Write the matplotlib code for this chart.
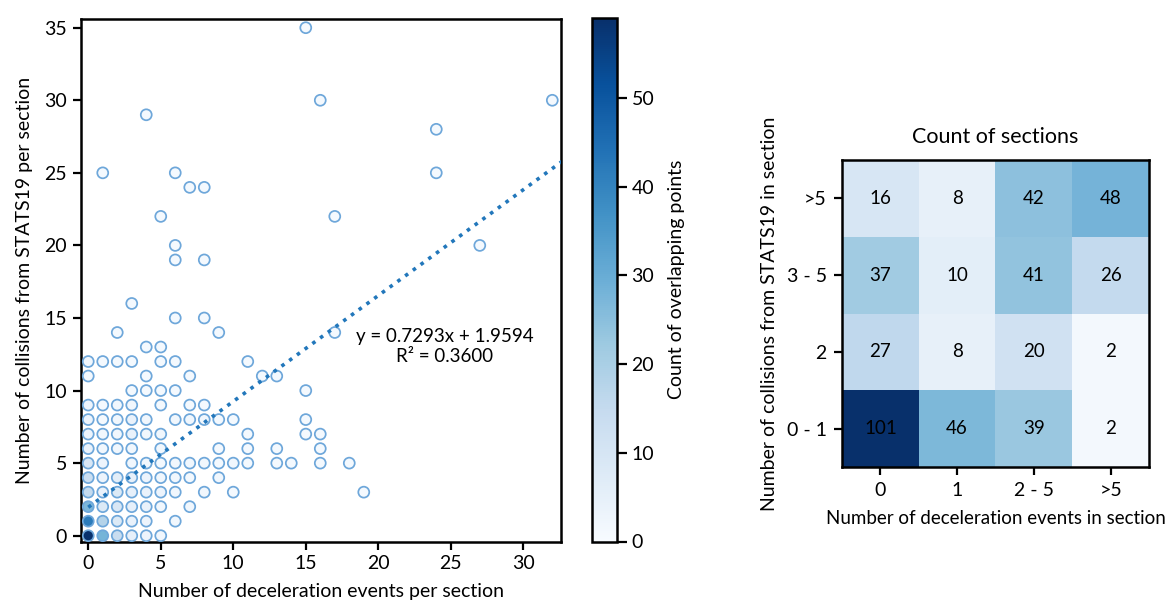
import matplotlib
matplotlib.use("Agg")
import matplotlib.pyplot as plt
import numpy as np

plt.rcParams['font.family'] = ['Lato', 'DejaVu Sans']

# ---- scatter data: unique (decel events, collisions) points and their multiplicity
decel_x = [0, 1, 2, 3, 4, 5,
           0, 1, 2, 3, 4, 6,
           0, 1, 2, 3, 4, 5, 7,
           0, 1, 2, 3, 4, 5, 6, 8, 10, 19,
           0, 1, 2, 3, 4, 5, 6, 7, 9,
           0, 1, 3, 4, 5, 6, 7, 8, 9, 10, 11, 13, 14, 16, 18,
           0, 1, 2, 3, 5, 9, 11, 13, 16,
           0, 1, 2, 3, 4, 5, 11, 15, 16,
           0, 1, 2, 3, 4, 6, 7, 8, 9, 10, 15,
           0, 1, 2, 3, 5, 7, 8,
           3, 4, 5, 6, 15,
           0, 4, 7, 12, 13,
           0, 1, 2, 3, 5, 6, 11,
           4, 5,
           2, 9, 17,
           6, 8,
           3,
           6, 8,
           6, 27,
           5, 17,
           7, 8,
           1, 6, 24,
           24,
           4,
           16, 32,
           15]
collisions_y = [0, 0, 0, 0, 0, 0,
                1, 1, 1, 1, 1, 1,
                2, 2, 2, 2, 2, 2, 2,
                3, 3, 3, 3, 3, 3, 3, 3, 3, 3,
                4, 4, 4, 4, 4, 4, 4, 4, 4,
                5, 5, 5, 5, 5, 5, 5, 5, 5, 5, 5, 5, 5, 5, 5,
                6, 6, 6, 6, 6, 6, 6, 6, 6,
                7, 7, 7, 7, 7, 7, 7, 7, 7,
                8, 8, 8, 8, 8, 8, 8, 8, 8, 8, 8,
                9, 9, 9, 9, 9, 9, 9,
                10, 10, 10, 10, 10,
                11, 11, 11, 11, 11,
                12, 12, 12, 12, 12, 12, 12,
                13, 13,
                14, 14, 14,
                15, 15,
                16,
                19, 19,
                20, 20,
                22, 22,
                24, 24,
                25, 25, 25,
                28,
                29,
                30, 30,
                35]
overlap_count = [59, 28, 14, 5, 3, 2,
                 42, 18, 8, 4, 3, 2,
                 27, 8, 9, 5, 4, 2, 2,
                 15, 4, 8, 5, 4, 3, 2, 2, 1, 1,
                 13, 3, 6, 5, 3, 2, 2, 1, 2,
                 9, 3, 2, 2, 1, 2, 2, 2, 1, 2, 1, 1, 1, 1, 1,
                 4, 2, 2, 2, 2, 1, 1, 1, 1,
                 3, 2, 2, 4, 2, 2, 1, 1, 1,
                 3, 1, 2, 4, 2, 2, 2, 2, 1, 1, 1,
                 3, 1, 2, 2, 1, 1, 1,
                 1, 1, 1, 1, 1,
                 1, 1, 1, 1, 1,
                 2, 1, 1, 1, 1, 1, 1,
                 1, 1,
                 1, 1, 1,
                 1, 1,
                 1,
                 1, 1,
                 1, 1,
                 1, 1,
                 1, 1,
                 1, 1, 1,
                 1,
                 1,
                 1, 1,
                 1]

slope = 0.7293
intercept = 1.9594
r_squared = 0.3600

# ---- heatmap data (rows bottom -> top)
decel_bins = ["0", "1", "2 - 5", ">5"]
collision_bins = ["0 - 1", "2", "3 - 5", ">5"]
section_counts = [[101, 46, 39, 2],
                  [27, 8, 20, 2],
                  [37, 10, 41, 26],
                  [16, 8, 42, 48]]

W, H = 1169, 608
fig = plt.figure(figsize=(W / 100, H / 100), dpi=100)

def box(l, t, r, b):
    return [l / W, 1 - b / H, (r - l) / W, (b - t) / H]

ax = fig.add_axes(box(81, 19, 561, 541.5))
cax = fig.add_axes(box(592, 18, 617, 541.5))
hax = fig.add_axes(box(842, 160, 1149, 467))

FS = 14

order = np.argsort(overlap_count)
xs = np.array(decel_x)[order]
ys = np.array(collisions_y)[order]
cs = np.array(overlap_count)[order]
sc = ax.scatter(xs, ys, c=cs, cmap='Blues', vmin=0, vmax=max(overlap_count),
                s=62, edgecolors='#6ea7da', linewidths=1.25, zorder=3)

xl = np.array([0, 33])
ax.plot(xl, slope * xl + intercept, linestyle=':', color='#2277bb', linewidth=2.6, zorder=4)
ax.text(24.6, 13.05, f"y = {slope:.4f}x + {intercept:.4f}\nR\u00b2 = {r_squared:.4f}",
        ha='center', va='center', multialignment='center', fontsize=13.5, zorder=5)

ax.set_xlim(-0.5, 32.6)
ax.set_ylim(-0.4, 35.6)
ax.set_xticks([0, 5, 10, 15, 20, 25, 30])
ax.set_yticks([0, 5, 10, 15, 20, 25, 30, 35])
ax.tick_params(labelsize=FS, length=6, width=1.6, pad=4)
for sp in ax.spines.values():
    sp.set_linewidth(1.8)
ax.set_xlabel("Number of deceleration events per section", fontsize=FS, labelpad=8)
ax.set_ylabel("Number of collisions from STATS19 per section", fontsize=FS, labelpad=8)

cb = fig.colorbar(sc, cax=cax)
cb.set_ticks([0, 10, 20, 30, 40, 50])
cb.ax.tick_params(labelsize=FS, length=7, width=1.6)
cb.outline.set_linewidth(1.8)
cb.set_label("Count of overlapping points", fontsize=FS, labelpad=10)

mat = np.array(section_counts)
hax.imshow(mat, cmap='Blues', vmin=0, vmax=mat.max(), origin='lower', aspect='auto')
for i in range(mat.shape[0]):
    for j in range(mat.shape[1]):
        hax.text(j, i, str(mat[i, j]), ha='center', va='center', fontsize=13.5, color='black')
hax.set_xticks(range(len(decel_bins)))
hax.set_xticklabels(decel_bins)
hax.set_yticks(range(len(collision_bins)))
hax.set_yticklabels(collision_bins)
hax.tick_params(labelsize=FS, length=6, width=1.6, pad=5)
for sp in hax.spines.values():
    sp.set_linewidth(1.8)
hax.set_title("Count of sections", fontsize=15.5, pad=12)
hax.set_xlabel("Number of deceleration events in section", fontsize=13.5, labelpad=8)
hax.set_ylabel("Number of collisions from STATS19 in section", fontsize=FS, labelpad=6)

fig.savefig("out.png", dpi=100)
